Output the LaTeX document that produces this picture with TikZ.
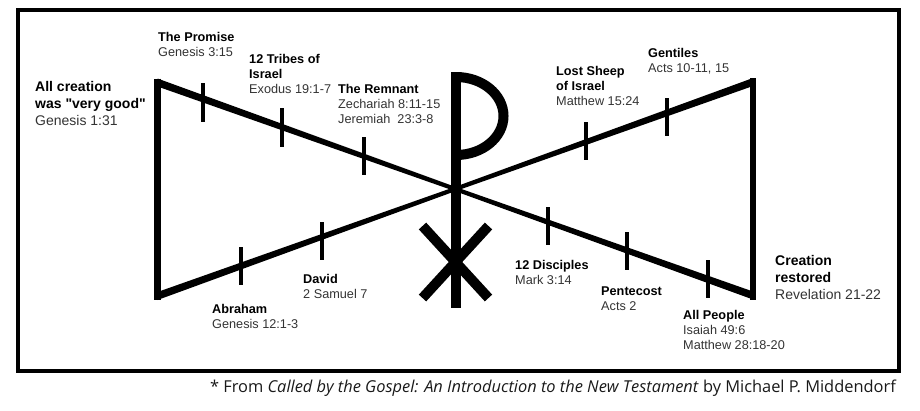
\documentclass[tikz,border=0pt]{standalone}
\usepackage{fontspec}
\setmainfont{Liberation Sans}
\newfontfamily\pie{Open Sans}
\usepackage{xcolor}
\usepackage{tikz}
\definecolor{gris}{HTML}{333333}
\newcommand{\cita}[1]{\textcolor{gris}{#1}}

\begin{document}
\begin{tikzpicture}[x=1pt, y=-1pt]
      % Definimos algunos estilos
      \tikzstyle{marco}=[line width=4pt]
      \tikzstyle{lado}=[line width=6.5pt]
      \tikzstyle{marca}=[line width=3.5pt]
      \tikzstyle{crismon}=[line width=10pt]
      % textos de cada etapa
      \tikzstyle{etapa}=[
        anchor=north west,
        inner sep=0pt,
        align=left,
        font=\fontsize{12.7}{15}\selectfont
      ]
      \tikzstyle{extremo}=[etapa, font=\fontsize{14}{17}\selectfont]

      \useasboundingbox (0,0) rectangle (920,410);

      % marco exterior
      \draw[marco] (18,10) rectangle (898.5,370.5);

      % lados verticales
      \draw[lado] (157.5,78.5) -- (157.5,300);
      \draw[lado] (753,78) -- (753,299.5);

      % las dos diagonales, mas finas en el cruce
      \fill (157.5,78.5) -- (455.2,186.8) -- (753,291.5) -- (753,299.5) -- (455.2,191.2) -- (157.5,86.5) -- cycle;
      \fill (157.5,292) -- (455.2,186.8) -- (753,78) -- (753,86) -- (455.2,191.2) -- (157.5,300) -- cycle;

      % marcas de la parte izquierda
      \draw[marca] (203,83) -- (203,122);
      \draw[marca] (282,108) -- (282,147);
      \draw[marca] (364,137) -- (364,175);
      \draw[marca] (241,247) -- (241,285);
      \draw[marca] (322,222) -- (322,260);

      % marcas de la parte derecha
      \draw[marca] (586,122) -- (586,160);
      \draw[marca] (667,98) -- (667,136);
      \draw[marca] (548,207) -- (548,245);
      \draw[marca] (627,232) -- (627,270);
      \draw[marca] (708,260) -- (708,298);

      % Chi-Rho
      \draw[crismon] (456,72) -- (456,308);
      \draw[crismon] (456,77) arc[start angle=270, end angle=450, x radius=47.5, y radius=39];
      \draw[crismon] (422.5,226) -- (488.5,298);
      \draw[crismon] (488.5,226) -- (422.5,298);

      % textos de arriba
      \node[extremo] (Creacion) at (35,81) {\textbf{All creation}\\\textbf{was \textquotedbl very good\textquotedbl}\\\cita{Genesis 1:31}};
      \node[etapa] (Promesa) at (158,31.9) {\textbf{The Promise}\\\cita{Genesis 3:15}};
      \node[etapa] (Tribus) at (249,53.9) {\textbf{12 Tribes of}\\\textbf{Israel}\\\cita{Exodus 19:1-7}};
      \node[etapa] (Remanente) at (338,83.9) {\textbf{The Remnant}\\\cita{Zechariah 8:11-15}\\\cita{Jeremiah~~23:3-8}};
      \node[etapa] (Ovejas) at (556,65.9) {\textbf{Lost Sheep}\\\textbf{of Israel}\\\cita{Matthew 15:24}};
      \node[etapa] (Gentiles) at (648,47.9) {\textbf{Gentiles}\\\cita{Acts 10-11, 15}};

      % textos de abajo
      \node[etapa] (Abraham) at (212,303.9) {\textbf{Abraham}\\\cita{Genesis 12:1-3}};
      \node[etapa] (David) at (303,273.9) {\textbf{David}\\\cita{2 Samuel 7}};
      \node[etapa] (Discipulos) at (515,259.9) {\textbf{12 Disciples}\\\cita{Mark 3:14}};
      \node[etapa] (Pentecostes) at (601,286.9) {\textbf{Pentecost}\\\cita{Acts 2}};
      \node[etapa] (Pueblos) at (683,309.9) {\textbf{All People}\\\cita{Isaiah 49:6}\\\cita{Matthew 28:18-20}};
      \node[extremo] (Restaurada) at (775,255) {\textbf{Creation}\\\textbf{restored}\\\cita{Revelation 21-22}};

      % referencia del libro
      \node[anchor=base east, inner sep=0pt, font=\pie\fontsize{16.4}{19}\selectfont, text=black!90] (Fuente) at (896,392.7) {* From \textit{Called by the Gospel: An Introduction to the New Testament} by Michael P. Middendorf};
\end{tikzpicture}
\end{document}
